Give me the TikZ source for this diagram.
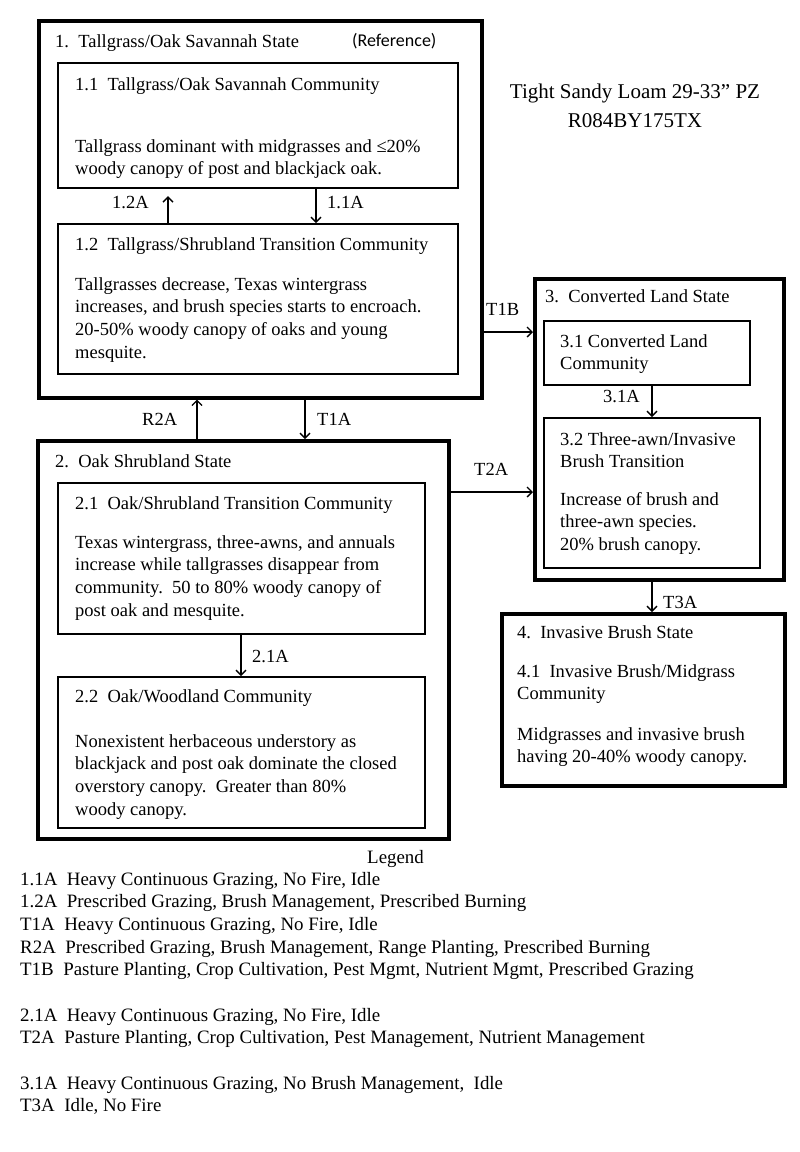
\documentclass[tikz,border=0pt]{standalone}
\usepackage{fontspec}
\setmainfont{Liberation Serif}
\newfontfamily\calib{Carlito}
\usetikzlibrary{arrows.meta}
\begin{document}
\begin{tikzpicture}[x=1pt,y=-1pt,
  statebox/.style={draw=black,line width=3.6pt,inner sep=0pt,anchor=north west},
  commbox/.style={draw=black,line width=2.2pt,inner sep=0pt,anchor=north west},
  txt/.style={anchor=north west,inner sep=0pt,align=left,font=\fontsize{18.5}{22.7}\selectfont},
  legtxt/.style={anchor=north west,inner sep=0pt,align=left,font=\fontsize{18.9}{22.7}\selectfont},
  ctxt/.style={anchor=north,inner sep=0pt,align=center,font=\fontsize{21}{29}\selectfont},
  arr/.style={draw=black,line width=1.3pt,-{Straight Barb[length=5pt,width=10pt,line width=1.3pt]}}]
\useasboundingbox[fill=white] (0,0) rectangle (800,1152);
% boxes
\node[statebox,minimum width=443pt,minimum height=377pt] (s1) at (37,19) {};
\node[commbox,minimum width=400pt,minimum height=125pt] (c11) at (57,62) {};
\node[commbox,minimum width=400pt,minimum height=150pt] (c12) at (57,223) {};
\node[statebox,minimum width=411pt,minimum height=398pt] (s2) at (36,439) {};
\node[commbox,minimum width=367pt,minimum height=151pt] (c21) at (57,482) {};
\node[commbox,minimum width=367pt,minimum height=151pt] (c22) at (57,676) {};
\node[statebox,minimum width=249pt,minimum height=301pt] (s3) at (533,277) {};
\node[commbox,minimum width=206pt,minimum height=64pt] (c31) at (543,320) {};
\node[commbox,minimum width=216pt,minimum height=150pt] (c32) at (543,417) {};
\node[statebox,minimum width=283pt,minimum height=172pt] (s4) at (500,612) {};
% texts
\node[txt] (t1) at (55,31) {\strut 1.\ \ Tallgrass/Oak Savannah State};
\node[anchor=north west,inner sep=0pt,font=\calib\fontsize{18}{21}\selectfont] (tref) at (352,32) {\strut(Reference)};
\node[txt] (t11) at (75,74) {\strut 1.1\ \ Tallgrass/Oak Savannah Community};
\node[txt] (b11) at (75,136) {\strut Tallgrass dominant with midgrasses and ≤20\%\\woody canopy of post and blackjack oak.};
\node[txt] (t12) at (75,234) {\strut 1.2\ \ Tallgrass/Shrubland Transition Community};
\node[txt] (b12) at (75,274) {\strut Tallgrasses decrease, Texas wintergrass\\increases, and brush species starts to encroach.\\20-50\% woody canopy of oaks and young\\mesquite.};
\node[ctxt] (site) at (635,78) {\strut Tight Sandy Loam 29-33” PZ\\R084BY175TX};
\node[txt] (t2) at (55,451) {\strut 2.\ \ Oak Shrubland State};
\node[txt] (t21) at (75,493) {\strut 2.1\ \ Oak/Shrubland Transition Community};
\node[txt] (b21) at (75,532) {\strut Texas wintergrass, three-awns, and annuals\\increase while tallgrasses disappear from\\community.\ \ 50 to 80\% woody canopy of\\post oak and mesquite.};
\node[txt] (t22) at (75,686) {\strut 2.2\ \ Oak/Woodland Community};
\node[txt] (b22) at (75,731) {\strut Nonexistent herbaceous understory as\\blackjack and post oak dominate the closed\\overstory canopy.\ \ Greater than 80\%\\woody canopy.};
\node[txt] (t3) at (545,286) {\strut 3.\ \ Converted Land State};
\node[txt] (t31) at (560,331) {\strut 3.1 Converted Land\\Community};
\node[txt] (t32) at (560,429) {\strut 3.2 Three-awn/Invasive\\Brush Transition};
\node[txt] (b32) at (560,489) {\strut Increase of brush and\\three-awn species.\\20\% brush canopy.};
\node[txt] (t4) at (517,622) {\strut 4.\ \ Invasive Brush State};
\node[txt] (t41) at (517,661) {\strut 4.1\ \ Invasive Brush/Midgrass\\Community};
\node[txt] (b41) at (517,724) {\strut Midgrasses and invasive brush\\having 20-40\% woody canopy.};
% transition labels
\node[txt] (l12a) at (112,192) {\strut 1.2A};
\node[txt] (l11a) at (327,192) {\strut 1.1A};
\node[txt] (lt1b) at (486,299) {\strut T1B};
\node[txt] (lr2a) at (142,409) {\strut R2A};
\node[txt] (lt1a) at (317,409) {\strut T1A};
\node[txt] (lt2a) at (474,459) {\strut T2A};
\node[txt] (l31a) at (603,386) {\strut 3.1A};
\node[txt] (lt3a) at (663,592) {\strut T3A};
\node[txt] (l21a) at (252,646) {\strut 2.1A};
% legend
\node[legtxt] (leg) at (367,847) {\strut Legend};
\node[legtxt] (leg1) at (20,869) {\strut 1.1A\ \ Heavy Continuous Grazing, No Fire, Idle\\1.2A\ \ Prescribed Grazing, Brush Management, Prescribed Burning\\T1A\ \ Heavy Continuous Grazing, No Fire, Idle\\R2A\ \ Prescribed Grazing, Brush Management, Range Planting, Prescribed Burning\\T1B\ \ Pasture Planting, Crop Cultivation, Pest Mgmt, Nutrient Mgmt, Prescribed Grazing};
\node[legtxt] (leg2) at (20,1005) {\strut 2.1A\ \ Heavy Continuous Grazing, No Fire, Idle\\T2A\ \ Pasture Planting, Crop Cultivation, Pest Management, Nutrient Management};
\node[legtxt] (leg3) at (20,1073) {\strut 3.1A\ \ Heavy Continuous Grazing, No Brush Management,\ \ Idle\\T3A\ \ Idle, No Fire};
% connector columns / rows
\coordinate (x11a) at (316,0);
\coordinate (x12a) at (168,0);
\coordinate (xt1a) at (305,0);
\coordinate (xr2a) at (197,0);
\coordinate (x21a) at (241,0);
\coordinate (x31a) at (652,0);
\coordinate (yt1b) at (0,332);
\coordinate (yt2a) at (0,492);
% connectors
\draw[arr] (c11.south -| x11a) -- (c12.north -| x11a);
\draw[arr,shorten >=7pt] (c12.north -| x12a) -- (c11.south -| x12a);
\draw[arr] (s1.south -| xt1a) -- (s2.north -| xt1a);
\draw[arr] (s2.north -| xr2a) -- (s1.south -| xr2a);
\draw[arr] (c21.south -| x21a) -- (c22.north -| x21a);
\draw[arr] (s1.east |- yt1b) -- (s3.west |- yt1b);
\draw[arr] (s2.east |- yt2a) -- (s3.west |- yt2a);
\draw[arr] (c31.south -| x31a) -- (c32.north -| x31a);
\draw[arr] (s3.south -| x31a) -- (s4.north -| x31a);
\end{tikzpicture}
\end{document}
